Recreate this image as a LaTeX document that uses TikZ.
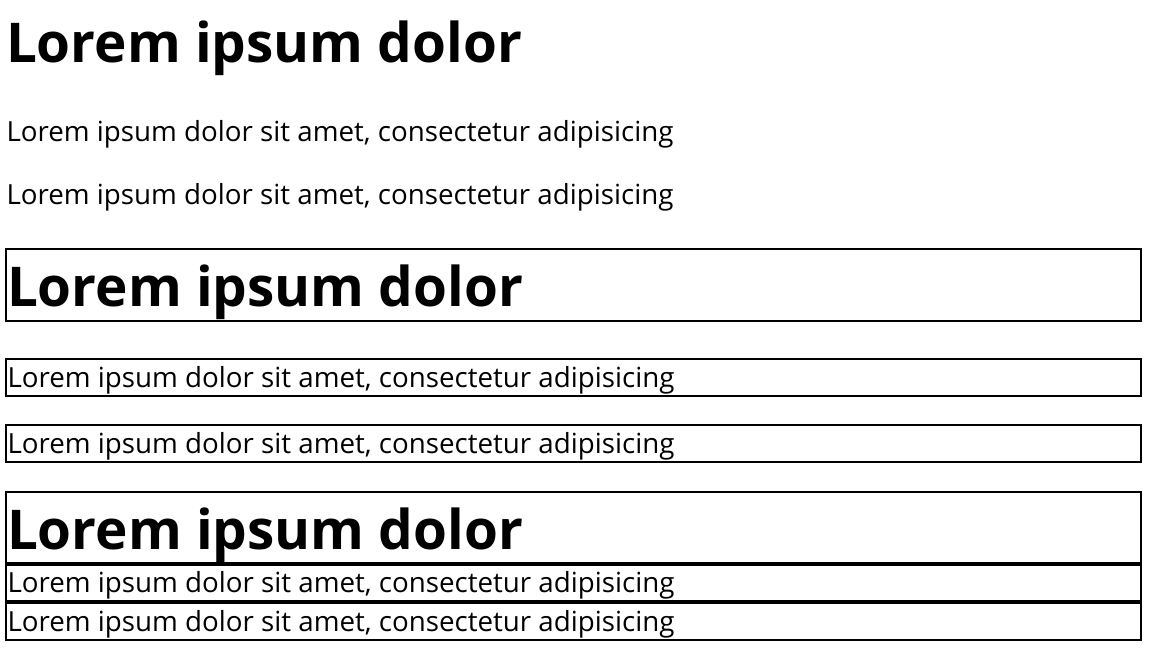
\documentclass[tikz,border=0pt]{standalone}
\usepackage{graphicx}
\usepackage{fontspec}
\setmainfont{Open Sans}
\newcommand{\hdtext}{\resizebox{516pt}{!}{\bfseries Lorem ipsum dolor}}
\newcommand{\bdtext}{\resizebox{667pt}{!}{Lorem ipsum dolor sit amet, consectetur adipisicing}}
\tikzset{
  txt/.style={anchor=base west, inner sep=0pt, outer sep=0pt, text=black},
  frame/.style={draw=black, line width=2pt}
}
\begin{document}
\begin{tikzpicture}[x=1pt,y=-1pt]
\useasboundingbox[fill=white] (0,0) rectangle (1151,656);
% unboxed
\node[txt] (h1) at (6,62.5) {\hdtext};
\node[txt] (p1) at (6.5,141) {\bdtext};
\node[txt] (p2) at (6.5,204) {\bdtext};
% separate boxes
\draw[frame] (6,248.5) rectangle (1140.5,320.5);
\node[txt] (h2) at (7,306) {\hdtext};
\draw[frame] (6,358.5) rectangle (1140.5,395.5);
\node[txt] (p3) at (7.5,387.5) {\bdtext};
\draw[frame] (6,425.3) rectangle (1140.5,461.7);
\node[txt] (p4) at (7.5,453.5) {\bdtext};
% stacked boxes
\draw[frame] (6,491.8) rectangle (1140.5,562.8);
\node[txt] (h3) at (7,549) {\hdtext};
\draw[frame] (6,564.8) rectangle (1140.5,601.2);
\node[txt] (p5) at (7.5,592.5) {\bdtext};
\draw[frame] (6,603.2) rectangle (1140.5,639.8);
\node[txt] (p6) at (7.5,631.5) {\bdtext};
\end{tikzpicture}
\end{document}
